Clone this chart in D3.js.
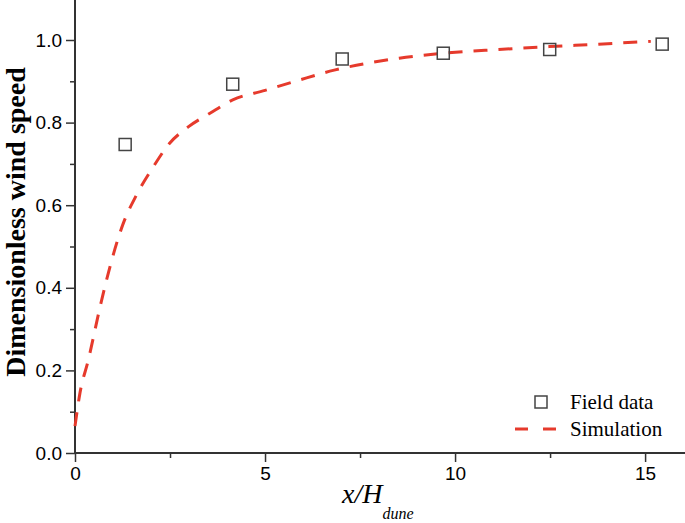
<!DOCTYPE html>
<html>
<head>
<meta charset="utf-8">
<script src="https://cdn.jsdelivr.net/npm/d3@7"></script>
<style>
  body { margin: 0; background: #fff; }
  svg { display: block; }
</style>
</head>
<body>
<div id="chart"></div>
<script>
// field data (squares)
let fieldX = [1.32, 4.15, 7.03, 9.69, 12.49, 15.45];
let fieldY = [0.747, 0.893, 0.954, 0.968, 0.977, 0.990];

// simulation curve (dashed)
let simX = [0, 0.13, 0.35, 0.66, 0.83, 1.27, 1.62, 2.06, 2.49, 2.97, 3.54, 4.15, 5.0, 5.9, 6.82, 8.53, 9.69, 11.15, 12.47, 13.78, 15.15];
let simY = [0.065, 0.145, 0.225, 0.354, 0.419, 0.556, 0.625, 0.693, 0.75, 0.789, 0.822, 0.855, 0.878, 0.903, 0.927, 0.956, 0.968, 0.977, 0.984, 0.99, 0.997];

// ticks
let xTicks = [0, 5, 10, 15];
let xMinor = [2.5, 7.5, 12.5];
let yTicks = [0, 0.2, 0.4, 0.6, 0.8, 1.0];
let yMinor = [0.1, 0.3, 0.5, 0.7, 0.9];

let width = 685;
let height = 523;

let x = d3.scaleLinear().domain([0, 16.05]).range([75, 685]);
let y = d3.scaleLinear().domain([0, 1.0]).range([453, 40]);

let svg = d3.select("#chart").append("svg")
    .attr("width", width)
    .attr("height", height);

let axisColor = "#333";
let red = "#e63a2c";

// minor ticks first (no labels)
svg.append("g")
    .attr("transform", "translate(0,453)")
    .call(d3.axisBottom(x).tickValues(xMinor).tickSize(5).tickFormat(""))
    .call(g => g.select(".domain").remove())
    .selectAll("line").attr("stroke", axisColor).attr("stroke-width", 1.5);

svg.append("g")
    .attr("transform", "translate(75,0)")
    .call(d3.axisLeft(y).tickValues(yMinor).tickSize(5).tickFormat(""))
    .call(g => g.select(".domain").remove())
    .selectAll("line").attr("stroke", axisColor).attr("stroke-width", 1.5);

// major x axis
let xAxis = svg.append("g")
    .attr("transform", "translate(0,453)")
    .call(d3.axisBottom(x).tickValues(xTicks).tickSize(9).tickPadding(5).tickFormat(d3.format("d")));
xAxis.select(".domain").remove();
xAxis.selectAll("line").attr("stroke", axisColor).attr("stroke-width", 1.5);
xAxis.selectAll("text")
    .attr("fill", "#000")
    .style("font", "19px 'Liberation Sans', Arial, sans-serif");

// major y axis
let yAxis = svg.append("g")
    .attr("transform", "translate(75,0)")
    .call(d3.axisLeft(y).tickValues(yTicks).tickSize(9).tickPadding(4).tickFormat(d3.format(".1f")));
yAxis.select(".domain").remove();
yAxis.selectAll("line").attr("stroke", axisColor).attr("stroke-width", 1.5);
yAxis.selectAll("text")
    .attr("fill", "#000")
    .style("font", "19px 'Liberation Sans', Arial, sans-serif");

// axis lines
svg.append("line")
    .attr("x1", 75).attr("x2", 685)
    .attr("y1", 453).attr("y2", 453)
    .attr("stroke", axisColor).attr("stroke-width", 2);
svg.append("line")
    .attr("x1", 75).attr("x2", 75)
    .attr("y1", 0).attr("y2", 453)
    .attr("stroke", axisColor).attr("stroke-width", 2);

// simulation line
let simData = simX.map((d, i) => ({x: d, y: simY[i]}));
let line = d3.line()
    .x(d => x(d.x))
    .y(d => y(d.y))
    .curve(d3.curveMonotoneX);

svg.append("path")
    .datum(simData)
    .attr("fill", "none")
    .attr("stroke", red)
    .attr("stroke-width", 3)
    .attr("stroke-dasharray", "14,11")
    .attr("d", line);

// field data squares
let fieldData = fieldX.map((d, i) => ({x: d, y: fieldY[i]}));
let sq = 12;
svg.selectAll(".field")
    .data(fieldData)
    .enter().append("rect")
    .attr("class", "field")
    .attr("x", d => x(d.x) - sq / 2)
    .attr("y", d => y(d.y) - sq / 2)
    .attr("width", sq)
    .attr("height", sq)
    .attr("fill", "none")
    .attr("stroke", "#444")
    .attr("stroke-width", 1.5);

// axis titles
svg.append("text")
    .attr("transform", "translate(25,222) rotate(-90)")
    .attr("text-anchor", "middle")
    .style("font", "bold 28px 'Liberation Serif', 'Times New Roman', serif")
    .text("Dimensionless wind speed");

let xTitle = svg.append("text")
    .attr("x", 342)
    .attr("y", 503)
    .style("font", "italic 28px 'Liberation Serif', 'Times New Roman', serif");
xTitle.append("tspan").text("x/H");
xTitle.append("tspan")
    .attr("dy", 16)
    .style("font-size", "16px")
    .text("dune");

// legend
let legend = svg.append("g")
    .style("font", "21px 'Liberation Serif', 'Times New Roman', serif");
legend.append("rect")
    .attr("x", 541 - sq / 2).attr("y", 402 - sq / 2)
    .attr("width", sq).attr("height", sq)
    .attr("fill", "none").attr("stroke", "#444").attr("stroke-width", 1.5);
legend.append("text").attr("x", 570).attr("y", 409).text("Field data");
legend.append("line")
    .attr("x1", 515).attr("x2", 557)
    .attr("y1", 429).attr("y2", 429)
    .attr("stroke", red).attr("stroke-width", 3)
    .attr("stroke-dasharray", "13,15");
legend.append("text").attr("x", 570).attr("y", 436).text("Simulation");
</script>
</body>
</html>
